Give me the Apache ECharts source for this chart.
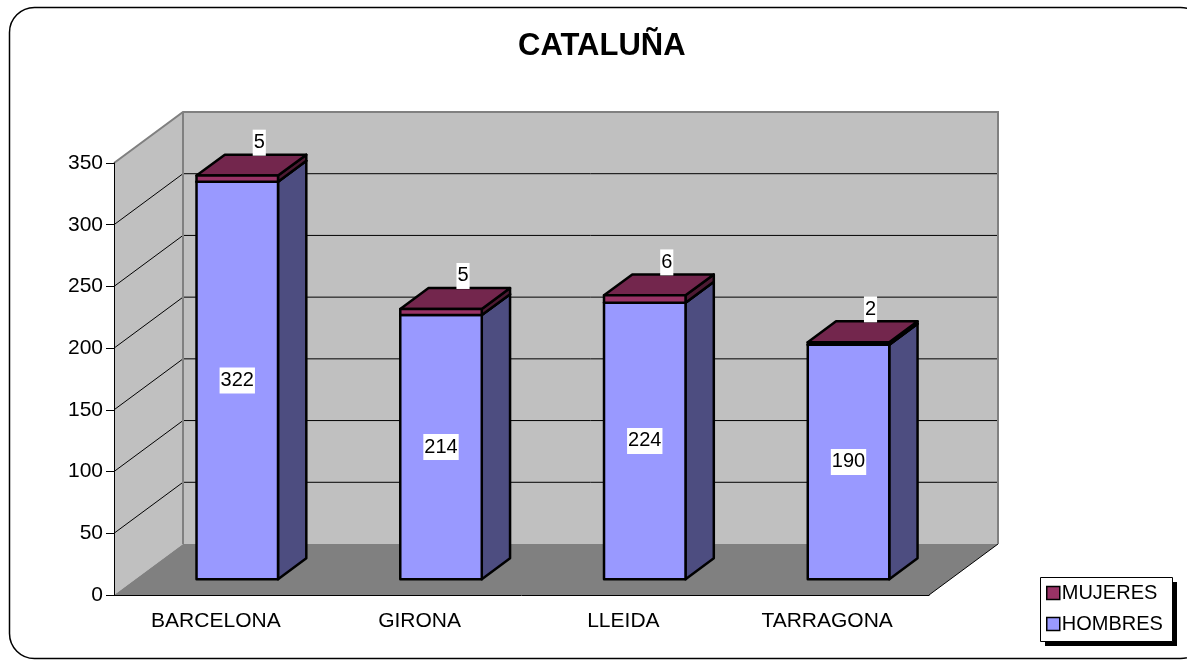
<!DOCTYPE html>
<html>
<head>
<meta charset="utf-8">
<script src="https://cdn.jsdelivr.net/npm/echarts@6/dist/echarts.min.js"></script>
<style>
  html, body { margin: 0; padding: 0; background: #fff; }
  #chart { width: 1187px; height: 661px; }
</style>
</head>
<body>
<div id="chart"></div>
<script>
var provincias = ['BARCELONA', 'GIRONA', 'LLEIDA', 'TARRAGONA'];
var hombres = [322, 214, 224, 190];
var mujeres = [5, 5, 6, 2];
var yMax = 350;
var yStep = 50;

var FONT = '"Liberation Sans", Arial, sans-serif';
// depth of the 3d box, in pixels
var DX = 69, DY = -51;
// where the bars sit inside that depth
var FRONT = 0.31, BACK = 0.72;
var BAR_W = 0.4;

function depth(p, d) {
  return [p[0] + DX * d, p[1] + DY * d];
}

function renderWalls(params, api) {
  var c0 = api.coord([0, 0]);
  var w = api.size([1, 0])[0];
  var x0 = c0[0] - w / 2;
  var x1 = x0 + w * provincias.length;
  var y0 = c0[1];
  var y1 = api.coord([0, yMax])[1];
  var gray = {fill: 'none', stroke: '#808080', lineWidth: 2};
  var thin = {stroke: '#000', lineWidth: 1};
  var children = [
    {type: 'polygon', shape: {points: [[x0 + DX, y1 + DY], [x1 + DX, y1 + DY], [x1 + DX, y0 + DY], [x0 + DX, y0 + DY]]}, style: {fill: '#c0c0c0'}},
    {type: 'polygon', shape: {points: [[x0, y0], [x0, y1], [x0 + DX, y1 + DY], [x0 + DX, y0 + DY]]}, style: {fill: '#c0c0c0'}},
    {type: 'polygon', shape: {points: [[x0, y0], [x1, y0], [x1 + DX, y0 + DY], [x0 + DX, y0 + DY]]}, style: {fill: '#808080'}},
    {type: 'line', shape: {x1: x1, y1: y0, x2: x1 + DX, y2: y0 + DY}, style: thin}
  ];
  for (var v = yStep; v < yMax; v += yStep) {
    var y = api.coord([0, v])[1];
    children.push({type: 'line', shape: {x1: x0, y1: y, x2: x0 + DX, y2: y + DY}, style: thin});
    children.push({type: 'line', shape: {x1: x0 + DX, y1: y + DY, x2: x1 + DX, y2: y + DY}, style: thin});
  }
  children.push({type: 'polyline', shape: {points: [[x0, y1], [x0 + DX, y1 + DY], [x1 + DX, y1 + DY], [x1 + DX, y0 + DY]]}, style: gray});
  children.push({type: 'line', shape: {x1: x0 + DX, y1: y1 + DY, x2: x0 + DX, y2: y0 + DY}, style: gray});
  return {type: 'group', children: children};
}

function makeBar(base, colors, top) {
  return function (params, api) {
    var i = api.value(0);
    var v = api.value(1);
    var b = base ? base[i] : 0;
    var w = api.size([1, 0])[0] * BAR_W;
    var fb = depth(api.coord([i, b]), FRONT);
    var ft = depth(api.coord([i, b + v]), FRONT);
    var l = fb[0] - w / 2, r = fb[0] + w / 2;
    var ddx = DX * (BACK - FRONT), ddy = DY * (BACK - FRONT);
    var edge = {stroke: '#000', lineWidth: 2.5, lineJoin: 'round'};
    var children = [
      {type: 'polygon', shape: {points: [[r, fb[1]], [r, ft[1]], [r + ddx, ft[1] + ddy], [r + ddx, fb[1] + ddy]]},
        style: Object.assign({fill: colors[1]}, edge)},
      {type: 'polygon', shape: {points: [[l, ft[1]], [r, ft[1]], [r + ddx, ft[1] + ddy], [l + ddx, ft[1] + ddy]]},
        style: Object.assign({fill: colors[2]}, edge)},
      {type: 'rect', shape: {x: l, y: ft[1], width: w, height: fb[1] - ft[1]},
        style: Object.assign({fill: colors[0]}, edge)}
    ];
    var lbl = top
      ? {x: fb[0] + 22, y: ft[1] + ddy + 1, verticalAlign: 'bottom'}
      : {x: fb[0], y: (fb[1] + ft[1]) / 2, verticalAlign: 'middle'};
    children.push({
      type: 'text',
      z2: 10,
      style: {
        text: String(v), x: lbl.x, y: lbl.y, align: 'center', verticalAlign: lbl.verticalAlign,
        fill: '#000', fontSize: 20, fontFamily: FONT, backgroundColor: '#fff', padding: [3, 1]
      }
    });
    return {type: 'group', children: children};
  };
}

var chart = echarts.init(document.getElementById('chart'));
chart.setOption({
  animation: false,
  backgroundColor: '#fff',
  title: {
    text: 'CATALUÑA',
    left: 518,
    top: 31,
    padding: 0,
    textStyle: {fontSize: 31, fontWeight: 'bold', fontFamily: FONT, color: '#000'}
  },
  graphic: [
    {
      type: 'rect',
      silent: true,
      z: -10,
      shape: {x: 9.5, y: 7.5, width: 1196, height: 651, r: 25},
      style: {fill: 'none', stroke: '#000', lineWidth: 1.5}
    },
    {
      // legend box shadow + frame
      type: 'rect',
      silent: true,
      z: 8,
      shape: {x: 1045, y: 582, width: 132, height: 64},
      style: {fill: '#000'}
    },
    {
      type: 'rect',
      silent: true,
      z: 8,
      shape: {x: 1040.5, y: 577.5, width: 132, height: 64},
      style: {fill: '#fff', stroke: '#000', lineWidth: 1}
    }
  ],
  legend: {
    orient: 'vertical',
    left: 1040,
    top: 577,
    z: 9,
    padding: [6, 12, 6, 6],
    itemGap: 11,
    itemWidth: 13,
    itemHeight: 13,
    icon: 'rect',
    itemStyle: {borderColor: '#000', borderWidth: 1.5},
    textStyle: {fontSize: 20, fontFamily: FONT, color: '#000', padding: [0, 0, 0, -3]},
    data: ['MUJERES', 'HOMBRES']
  },
  grid: {left: 114, right: 258, top: 163, bottom: 66},
  xAxis: {
    type: 'category',
    data: provincias,
    z: 5,
    axisLine: {lineStyle: {color: '#000', width: 1}},
    axisTick: {length: 8, lineStyle: {color: '#000'}},
    axisLabel: {fontSize: 21, fontFamily: FONT, color: '#000', margin: 16}
  },
  yAxis: {
    type: 'value',
    min: 0,
    max: yMax,
    interval: yStep,
    z: 5,
    splitLine: {show: false},
    axisLine: {show: true, lineStyle: {color: '#000', width: 1}},
    axisTick: {show: true, length: 8, lineStyle: {color: '#000'}},
    axisLabel: {fontSize: 21, fontFamily: FONT, color: '#000', margin: 11}
  },
  series: [
    {
      type: 'custom',
      name: 'walls',
      z: 1,
      clip: false,
      silent: true,
      renderItem: renderWalls,
      encode: {x: 0, y: 1},
      data: [[0, 0]]
    },
    {
      type: 'custom',
      name: 'HOMBRES',
      z: 2,
      clip: false,
      itemStyle: {color: '#9999ff'},
      renderItem: makeBar(null, ['#9999ff', '#4d4d80', '#7a7acc'], false),
      encode: {x: 0, y: 1},
      data: hombres.map(function (v, i) { return [i, v]; })
    },
    {
      type: 'custom',
      name: 'MUJERES',
      z: 3,
      clip: false,
      itemStyle: {color: '#993366'},
      renderItem: makeBar(hombres, ['#993366', '#4d1a33', '#73264d'], true),
      encode: {x: 0, y: 1},
      data: mujeres.map(function (v, i) { return [i, v]; })
    }
  ]
});
</script>
</body>
</html>
